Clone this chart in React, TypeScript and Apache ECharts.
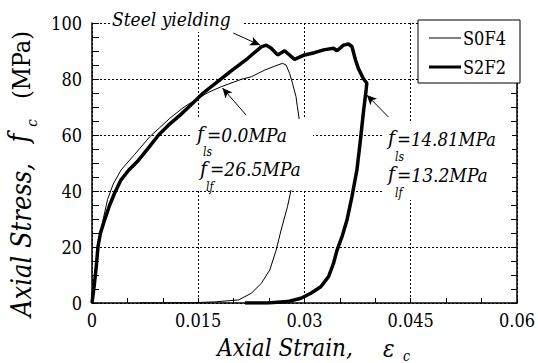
import React, { useEffect, useRef } from "react";
import * as echarts from "echarts";

// Axis ranges and tick steps
const strainRange = [0, 0.06];
const strainStep = 0.015;
const stressRange = [0, 100];
const stressStep = 20;

// Stress–strain curve of specimen S0F4 (thin line): [axial strain, axial stress MPa]
const s0f4 = [
  [0, 0], [0.0003, 7], [0.0006, 14.5], [0.001, 22], [0.0015, 29], [0.0022, 37],
  [0.003, 42.5], [0.0041, 47.5], [0.006, 53], [0.0082, 59.5], [0.0095, 62.5],
  [0.011, 66], [0.013, 70], [0.015, 73.2], [0.0165, 75.3], [0.0183, 77.3],
  [0.0211, 79.9], [0.0225, 80.8], [0.0244, 83.2], [0.0258, 84.6], [0.0269, 85.6],
  [0.0274, 85], [0.0279, 82], [0.0283, 78.5], [0.0288, 73.7], [0.029, 70.1],
  [0.0293, 64.8], [0.0292, 58], [0.0289, 50], [0.0285, 44], [0.0281, 40.4],
  [0.0276, 34.4], [0.0267, 26.1], [0.026, 18.9], [0.0251, 11.8], [0.0239, 7],
  [0.0225, 3.5], [0.0207, 1.1], [0.0174, 0.4], [0.014, 0.1], [0.0067, 0],
];

// Stress–strain curve of specimen S2F2 (thick line)
const s2f2 = [
  [0, 0], [0.0003, 6], [0.0006, 13], [0.00084, 20], [0.0012, 25], [0.00177, 29.6],
  [0.0025, 35], [0.0032, 39.3], [0.0041, 44], [0.0052, 47.5], [0.0064, 50.5],
  [0.008, 55.5], [0.0094, 60], [0.011, 64], [0.0124, 67], [0.014, 70.8],
  [0.0157, 75], [0.0176, 78.8], [0.0197, 83], [0.022, 87.4], [0.0239, 91.5],
  [0.0246, 92.1], [0.0253, 91], [0.0262, 88.6], [0.0272, 90.1], [0.0276, 89.2],
  [0.0286, 87], [0.03, 88.6], [0.0314, 89.4], [0.0327, 90.4], [0.0341, 91],
  [0.0346, 90.1], [0.0355, 92.1], [0.0362, 92.5], [0.0367, 91.6], [0.0372, 86.8],
  [0.0376, 83.8], [0.0383, 80.2], [0.0388, 78.5], [0.0387, 76.1], [0.0383, 67.7],
  [0.0379, 58.2], [0.0374, 47.5], [0.0367, 38], [0.036, 29.6], [0.0353, 23.7],
  [0.0346, 18.9], [0.0341, 14.2], [0.0334, 9.4], [0.0323, 5.8], [0.0309, 3.5],
  [0.0295, 1.7], [0.0276, 0.5], [0.0248, 0], [0.0216, 0],
];

// Annotation arrows: [tail, head] in [strain, stress]
const arrows = [
  [[0.01995, 96.4], [0.02372, 92.1]],
  [[0.02177, 67.1], [0.01842, 76.8]],
  [[0.04186, 66.4], [0.03879, 74.3]],
];

const seriesNames = ["S0F4", "S2F2"];

const SERIF = "DejaVu Serif Condensed";
const INK = "#000";

function txt(text: string, x: number, y: number, size: number, italic = true, extra: any = {}) {
  return {
    type: "text",
    x,
    y,
    z: 101,
    ...extra,
    style: {
      text,
      fontFamily: SERIF,
      fontSize: size,
      fontStyle: italic ? "italic" : "normal",
      fill: INK,
      align: "left",
      verticalAlign: "middle",
      ...(extra.style || {}),
    },
  };
}

function whiteBox(x: number, y: number, width: number, height: number) {
  return { type: "rect", z: 100, shape: { x, y, width, height }, style: { fill: "#fff" } };
}

export default function App() {
  const ref = useRef<HTMLDivElement>(null);

  useEffect(() => {
    const chart = echarts.init(ref.current!, null, { renderer: "svg" });

    const tickStyle = { color: INK, width: 1 };
    const gridStyle = { color: INK, width: 1, type: [2, 2] };

    chart.setOption({
      animation: false,
      backgroundColor: "#fff",
      grid: { left: 92, right: 16, top: 23, bottom: 60 },
      xAxis: {
        type: "value",
        min: strainRange[0],
        max: strainRange[1],
        interval: strainStep,
        axisLine: { show: true, onZero: false, lineStyle: { color: INK, width: 1.5 } },
        axisTick: { show: true, inside: true, length: 5, lineStyle: tickStyle },
        minorTick: { show: true, splitNumber: 3, length: 5, lineStyle: tickStyle },
        splitLine: { show: true, lineStyle: gridStyle },
        axisLabel: {
          color: INK,
          fontFamily: SERIF,
          fontSize: 18,
          margin: 8,
          formatter: (v: number) => (v === 0 ? "0" : String(parseFloat(v.toFixed(3)))),
        },
      },
      yAxis: [
        {
          type: "value",
          min: stressRange[0],
          max: stressRange[1],
          interval: stressStep,
          axisLine: { show: true, onZero: false, lineStyle: { color: INK, width: 1.5 } },
          axisTick: { show: true, inside: true, length: 7, lineStyle: tickStyle },
          minorTick: { show: true, splitNumber: 4, length: 7, lineStyle: tickStyle },
          splitLine: { show: true, lineStyle: gridStyle },
          axisLabel: { color: INK, fontFamily: SERIF, fontSize: 18, margin: 10 },
        },
        {
          type: "value",
          position: "right",
          min: stressRange[0],
          max: stressRange[1],
          interval: stressStep,
          axisLine: { show: true, onZero: false, lineStyle: { color: INK, width: 1.5 } },
          axisTick: { show: true, inside: true, length: 6, lineStyle: tickStyle },
          minorTick: { show: true, splitNumber: 4, length: 6, lineStyle: tickStyle },
          splitLine: { show: false },
          axisLabel: { show: false },
        },
      ],
      series: [
        {
          name: seriesNames[1],
          type: "line",
          data: s2f2,
          showSymbol: false,
          symbol: "none",
          yAxisIndex: 0,
          z: 3,
          lineStyle: { color: INK, width: 3.5 },
          markLine: {
            silent: true,
            symbol: ["none", "arrow"],
            symbolSize: [7, 10],
            label: { show: false },
            lineStyle: { color: INK, width: 1, type: "solid" },
            data: arrows.map(([a, b]) => [{ coord: a }, { coord: b }]),
          },
        },
        {
          name: seriesNames[0],
          type: "line",
          data: s0f4,
          showSymbol: false,
          symbol: "none",
          yAxisIndex: 0,
          z: 4,
          lineStyle: { color: INK, width: 1 },
        },
      ],
      graphic: [
        // axis titles
        txt("Axial Stress,", 21, 240, 27, true, { rotation: Math.PI / 2, style: { align: "center" } }),
        txt("f", 18, 138, 27, true, { rotation: Math.PI / 2, style: { align: "center" } }),
        txt("c", 32, 123, 15, true, { rotation: Math.PI / 2, style: { align: "center" } }),
        txt("(MPa)", 21, 65, 25, false, { rotation: Math.PI / 2, style: { align: "center" } }),
        txt("Axial Strain,", 285, 348, 24, true, { style: { align: "center" } }),
        txt("ε", 383, 349, 24, true),
        txt("c", 403, 356, 14, true),

        // steel yielding label
        whiteBox(110, 9, 134, 23),
        txt("Steel yielding", 112, 19, 19),

        // left confinement label
        whiteBox(190, 119, 123, 71),
        txt("f", 197, 134, 21),
        txt("ls", 203, 152, 12),
        txt("=0.0MPa", 207, 135, 19),
        txt("f", 200, 169, 21),
        txt("lf", 206, 187, 12),
        txt("=26.5MPa", 210, 169, 19),

        // right confinement label
        whiteBox(384, 123, 128, 77),
        txt("f", 388, 138, 21),
        txt("ls", 395, 157, 12),
        txt("=14.81MPa", 397, 139, 18.5),
        txt("f", 388, 174, 21),
        txt("lf", 395, 193, 12),
        txt("=13.2MPa", 397, 175, 19),

        // legend
        {
          type: "rect",
          z: 100,
          shape: { x: 418, y: 20, width: 102, height: 63 },
          style: { fill: "#fff", stroke: INK, lineWidth: 1 },
        },
        {
          type: "line",
          z: 101,
          shape: { x1: 429, y1: 38, x2: 461, y2: 38 },
          style: { stroke: INK, lineWidth: 1 },
        },
        txt(seriesNames[0], 463, 38, 18, false),
        {
          type: "line",
          z: 101,
          shape: { x1: 429, y1: 67, x2: 461, y2: 67 },
          style: { stroke: INK, lineWidth: 3 },
        },
        txt(seriesNames[1], 463, 67, 18, false),
      ],
    });

    return () => chart.dispose();
  }, []);

  return (
    <div
      ref={ref}
      style={{ position: "absolute", left: 0, top: 0, width: 538, height: 363, background: "#fff" }}
    />
  );
}
